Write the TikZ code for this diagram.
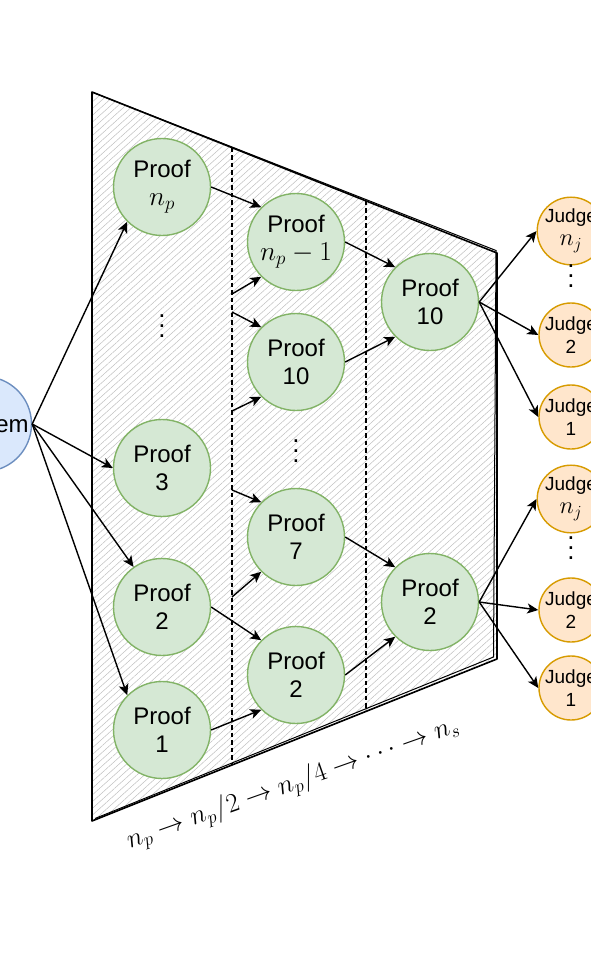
\documentclass[tikz,border=0pt]{standalone}
\usepackage[no-math]{fontspec}
\usepackage{graphicx}
\setmainfont{Liberation Sans}
\usetikzlibrary{arrows.meta,patterns.meta,calc}
\definecolor{prooffill}{HTML}{D5E8D4}
\definecolor{proofdraw}{HTML}{82B366}
\definecolor{judgefill}{HTML}{FFE6CC}
\definecolor{judgedraw}{HTML}{D79B00}
\definecolor{probfill}{HTML}{DAE8FC}
\definecolor{probdraw}{HTML}{6C8EBF}
\newcommand\mth[2][1.1]{{\fontsize{25}{28}\selectfont\scalebox{#1}{$#2$}}}
\begin{document}
\begin{tikzpicture}[x=1pt,y=-1pt,
  proof/.style={circle, draw=proofdraw, fill=prooffill, line width=1.4pt, minimum size=97pt, inner sep=0pt, align=center, font=\fontsize{24}{28}\selectfont},
  judge/.style={circle, draw=judgedraw, fill=judgefill, line width=1.4pt, minimum size=64pt, inner sep=0pt, align=center, font=\fontsize{19}{23}\selectfont},
  prob/.style={circle, draw=probdraw, fill=probfill, line width=1.4pt, minimum size=95pt, inner sep=0pt, align=center, font=\fontsize{24}{28}\selectfont},
  arr/.style={-{Stealth[length=11pt,width=10pt,inset=2.8pt]}, line width=1.4pt},
  sepline/.style={dash pattern=on 4.5pt off 3pt, line width=1.3pt},
  vdts/.style={align=center, inner sep=0pt, font=\fontsize{26}{10}\selectfont},
  outline/.style={line width=1.6pt, line join=round}
]
\useasboundingbox (0,0) rectangle (591,979);

% trapezoid
\coordinate (TL) at (92,92);
\coordinate (TR) at (497,253);
\coordinate (BR) at (497,659);
\coordinate (BL) at (92,821);
\fill[pattern={Lines[angle=42,distance=5pt,line width=0.5pt]}, pattern color=black!25]
  (TL) -- (TR) -- (BR) -- (BL) -- cycle;
\draw[outline] (TL) -- (TR) -- (BR) -- (BL) -- cycle;
\draw[line width=1pt] (93,92.5) -- (496,250.5) -- (493.5,657) -- (95,818.5);

% dashed separators
\coordinate (d1t) at ($(TL)!0.3457!(TR)$);
\coordinate (d1b) at ($(BL)!0.3457!(BR)$);
\coordinate (d2t) at ($(TL)!0.6765!(TR)$);
\coordinate (d2b) at ($(BL)!0.6765!(BR)$);
\draw[sepline] (d1t) -- (d1b);
\draw[sepline] (d2t) -- (d2b);

% nodes
\node[prob] (prob) at (-16,424) {Problem};

\node[proof] (pn) at (162,187) {Proof\\\mth{n_p}};
\node[proof] (p3) at (162,468) {Proof\\3};
\node[proof] (p2a) at (162,607) {Proof\\2};
\node[proof] (p1) at (162,730) {Proof\\1};

\node[proof] (pnm) at (296,242) {Proof\\\mth{n_p-1}};
\node[proof] (p10b) at (296,362) {Proof\\10};
\node[proof] (p7) at (296,537) {Proof\\7};
\node[proof] (p2b) at (296,675) {Proof\\2};

\node[proof] (p10c) at (430,302) {Proof\\10};
\node[proof] (p2c) at (430,602) {Proof\\2};

\node[judge] (jn1) at (571,231) {Judge\\\mth[0.98]{n_j}};
\node[judge] (j21) at (571,335) {Judge\\2};
\node[judge] (j11) at (571,417) {Judge\\1};
\node[judge] (jn2) at (571,499) {Judge\\\mth[0.98]{n_j}};
\node[judge] (j22) at (571,610) {Judge\\2};
\node[judge] (j12) at (571,688) {Judge\\1};

\node[vdts] (dt1) at (162,326) {.\\.\\.};
\node[vdts] (dt2) at (296,451) {.\\.\\.};
\node[vdts] (dt3) at (571,276) {.\\.\\.};
\node[vdts] (dt4) at (571,548) {.\\.\\.};

\node[rotate=19.5, font=\fontsize{25}{30}\selectfont] (lbl) at (293,784)
  {\scalebox{1.08}{$n_p \to n_p/2 \to n_p/4 \to \cdots \to n_s$}};

% free ends on first separator
\coordinate (s1) at (232,294);
\coordinate (s2) at (232,312);
\coordinate (s3) at (232,411);
\coordinate (s4) at (232,490);
\coordinate (s5) at (232,597);

% connectors
\draw[arr] (prob.east) -- (pn.225);
\draw[arr] (prob.east) -- (p3.west);
\draw[arr] (prob.east) -- (p2a);
\draw[arr] (prob.east) -- (p1.135);

\draw[arr] (pn.east) -- (pnm.135);
\draw[arr] (s1) -- (pnm.225);
\draw[arr] (s2) -- (p10b.135);
\draw[arr] (s3) -- (p10b.225);
\draw[arr] (s4) -- (p7.135);
\draw[arr] (s5) -- (p7.225);
\draw[arr] (p2a.east) -- (p2b.135);
\draw[arr] (p1.east) -- (p2b.225);

\draw[arr] (pnm.east) -- (p10c.135);
\draw[arr] (p10b.east) -- (p10c.225);
\draw[arr] (p7.east) -- (p2c.135);
\draw[arr] (p2b.east) -- (p2c.225);

\draw[arr] (p10c.east) -- (jn1.west);
\draw[arr] (p10c.east) -- (j21.west);
\draw[arr] (p10c.east) -- (j11.west);
\draw[arr] (p2c.east) -- (jn2.west);
\draw[arr] (p2c.east) -- (j22.west);
\draw[arr] (p2c.east) -- (j12.west);
\end{tikzpicture}
\end{document}
